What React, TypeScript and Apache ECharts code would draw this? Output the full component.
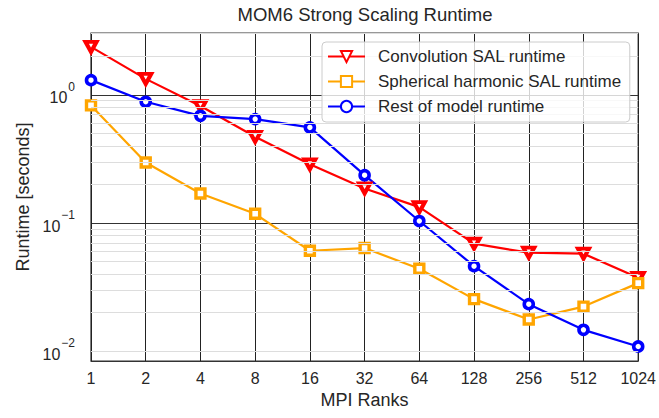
import React, { useEffect, useRef } from "react";
import * as echarts from "echarts";

const ranks = ["1", "2", "4", "8", "16", "32", "64", "128", "256", "512", "1024"];
const convolution = [2.36, 1.33, 0.816, 0.47, 0.287, 0.186, 0.133, 0.069, 0.0587, 0.0577, 0.0374];
const spherical = [0.826, 0.296, 0.17, 0.118, 0.0608, 0.0638, 0.044, 0.0255, 0.0177, 0.0223, 0.034];
const rest = [1.3, 0.882, 0.685, 0.646, 0.556, 0.236, 0.1037, 0.0461, 0.0233, 0.0147, 0.0109];
const minorGrid = [0.009, 0.02, 0.03, 0.04, 0.05, 0.06, 0.07, 0.08, 0.09, 0.2, 0.3, 0.4, 0.5, 0.6, 0.7, 0.8, 0.9, 2, 3];
const yMin = 0.0084;
const yMax = 3.03;

const FONT = "'Liberation Sans', Arial, sans-serif";
const TXT = "#262626";

export default function App() {
  const ref = useRef<HTMLDivElement>(null);
  useEffect(() => {
    if (!ref.current) return;
    const chart = echarts.init(ref.current, null, { renderer: "svg" });
    const mk = (name: string, data: number[], color: string, symbol: string, size: number | number[], bw: number, rotate = 0) => ({
      name,
      type: "line",
      data,
      color,
      symbol,
      symbolSize: size,
      symbolRotate: rotate,
      showAllSymbol: true,
      lineStyle: { color, width: 2.2 },
      itemStyle: { color: "#ffffff", borderColor: color, borderWidth: bw, borderType: "solid", opacity: 1 },
      z: 3,
    });
    chart.setOption({
      animation: false,
      textStyle: { fontFamily: FONT },
      title: {
        text: "MOM6 Strong Scaling Runtime",
        left: 365,
        top: 5,
        textAlign: "center",
        padding: 0,
        textStyle: { fontSize: 18.5, fontWeight: "normal", color: TXT, fontFamily: FONT },
      },
      grid: {
        left: 91,
        right: 20,
        top: 33,
        bottom: 57,
        show: true,
        borderColor: "#333",
        borderWidth: 1.25,
        containLabel: false,
      },
      legend: {
        orient: "vertical",
        left: 322,
        top: 42,
        padding: [6, 8, 7, 5],
        itemWidth: 37,
        itemHeight: 14,
        itemGap: 8,
        z: 10,
        backgroundColor: "rgba(255,255,255,0.8)",
        borderColor: "#cccccc",
        borderWidth: 1,
        borderRadius: 4,
        data: ["Convolution SAL runtime", "Spherical harmonic SAL runtime", "Rest of model runtime"],
        formatter: (name: string) => `{g|}{t|${name}}`,
        textStyle: {
          fontSize: 17,
          lineHeight: 17,
          color: TXT,
          fontFamily: FONT,
          rich: {
            g: { width: 8, height: 17 },
            t: { fontSize: 17, lineHeight: 17, color: TXT, fontFamily: FONT },
          },
        },
      },
      xAxis: {
        type: "category",
        data: ranks,
        boundaryGap: false,
        axisLine: { show: false },
        axisTick: { show: false },
        axisLabel: { fontSize: 16, color: TXT, margin: 9, fontFamily: FONT },
        splitLine: { show: true, lineStyle: { color: "#222", width: 1 } },
        name: "MPI Ranks",
        nameLocation: "middle",
        nameGap: 29,
        nameTextStyle: { fontSize: 18, color: TXT, fontFamily: FONT },
      },
      yAxis: {
        type: "log",
        logBase: 10,
        min: yMin,
        max: yMax,
        axisLine: { show: false },
        axisTick: { show: false },
        splitLine: { show: true, lineStyle: { color: "#333", width: 1 } },
        axisLabel: {
          margin: 16,
          color: TXT,
          fontFamily: FONT,
          formatter: (v: number) => {
            const l = Math.log10(v);
            const e = Math.round(l);
            if (Math.abs(l - e) > 1e-6) return "";
            const s = e < 0 ? "\u2212" + -e : String(e);
            return `{b|10}{s|${s}}`;
          },
          rich: {
            b: { fontSize: 16, color: TXT, fontFamily: FONT, padding: [6, 0, 0, 0] },
            s: { fontSize: 12, color: TXT, fontFamily: FONT, padding: [0, 0, 16, 1] },
          },
        },
        name: "Runtime [seconds]",
        nameLocation: "middle",
        nameGap: 56,
        nameTextStyle: { fontSize: 18, color: TXT, fontFamily: FONT },
      },
      series: [
        {
          name: "minor",
          type: "line",
          data: [],
          z: -1,
          silent: true,
          markLine: {
            silent: true,
            symbol: "none",
            label: { show: false },
            lineStyle: { color: "#dddddd", width: 1, type: "solid" },
            data: minorGrid.map((v) => ({ yAxis: v })),
            animation: false,
          },
        },
        mk("Convolution SAL runtime", convolution, "#ff0000", "triangle", [11, 10], 4, 180),
        mk("Spherical harmonic SAL runtime", spherical, "#ffa500", "rect", 9, 3.4),
        mk("Rest of model runtime", rest, "#0000ff", "circle", 9, 3.6),
      ],
    });
    return () => chart.dispose();
  }, []);
  return (
    <div
      ref={ref}
      style={{ position: "fixed", left: 0, top: 0, width: 659, height: 418, background: "#fff" }}
    />
  );
}
